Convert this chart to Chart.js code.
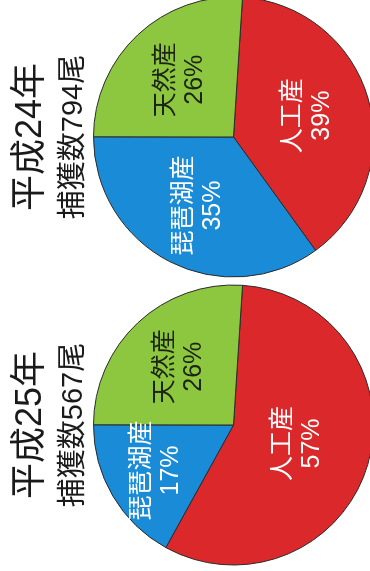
<!DOCTYPE html>
<html>
<head>
<meta charset="utf-8">
<script src="https://cdn.jsdelivr.net/npm/chart.js@4"></script>
<style>
    html, body { margin: 0; padding: 0; background: #fff; overflow: hidden; }
    body { width: 370px; height: 571px; position: relative; }
    /* the whole figure is laid out sideways and then turned a quarter turn */
    #stage {
        position: absolute; left: 0; top: 0;
        width: 571px; height: 370px;
        overflow: hidden;
        transform-origin: 0 0;
        transform: translateY(571px) rotate(-90deg);
    }
    #stage canvas { position: absolute; top: 0; }
    #chart25 { left: 4px; }
    #chart24 { left: 292px; }
</style>
</head>
<body>
<div id="stage">
    <canvas id="chart25" width="284" height="374"></canvas>
    <canvas id="chart24" width="284" height="374"></canvas>
</div>
<script>
// Data
const categories = ['人工産', '琵琶湖産', '天然産'];
const share24 = [39, 35, 26];   // 平成24年 (%)
const share25 = [57, 17, 26];   // 平成25年 (%)
const titles = ['平成24年', '平成25年'];
const catchCounts = [794, 567];

const sliceColors = ['#da282b', '#1a8bd6', '#8dc63f'];
const labelColors = ['#ffffff', '#ffffff', '#1c2414'];
const fontFamily = '"Liberation Sans", "Noto Sans CJK JP", sans-serif';

// Draws "name / value%" in the middle of each slice
const sliceLabels = {
    id: 'sliceLabels',
    afterDatasetsDraw(chart, args, opts) {
        const ctx = chart.ctx;
        const meta = chart.getDatasetMeta(0);
        const values = chart.data.datasets[0].data;
        ctx.save();
        ctx.font = `25px ${fontFamily}`;
        ctx.textAlign = 'center';
        ctx.textBaseline = 'middle';
        meta.data.forEach((arc, i) => {
            const { x, y, startAngle, endAngle, outerRadius } = arc.getProps(['x', 'y', 'startAngle', 'endAngle', 'outerRadius'], true);
            const mid = (startAngle + endAngle) / 2;
            const r = outerRadius * opts.radius[i];
            const cx = x + Math.cos(mid) * r;
            const cy = y + Math.sin(mid) * r;
            ctx.fillStyle = labelColors[i];
            ctx.fillText(chart.data.labels[i], cx, cy - 14);
            ctx.fillText(values[i] + '%', cx, cy + 15);
        });
        ctx.restore();
    }
};

function makePie(canvasId, values, title, count, labelRadius) {
    return new Chart(document.getElementById(canvasId), {
        type: 'pie',
        data: {
            labels: categories,
            datasets: [{
                data: values,
                backgroundColor: sliceColors,
                borderColor: '#2b2b2b',
                borderWidth: 1
            }]
        },
        options: {
            responsive: false,
            animation: false,
            devicePixelRatio: 1,
            rotation: 93.7,
            radius: 140,
            layout: { padding: 0 },
            plugins: {
                legend: { display: false },
                tooltip: { enabled: false },
                title: {
                    display: true,
                    text: title,
                    color: '#1a1a1a',
                    font: { family: fontFamily, size: 36, weight: 'normal' },
                    padding: { top: 9, bottom: 4 }
                },
                subtitle: {
                    display: true,
                    text: `捕獲数${count}尾`,
                    color: '#1a1a1a',
                    font: { family: fontFamily, size: 29, weight: 'normal' },
                    padding: { top: 0, bottom: 2 }
                },
                sliceLabels: { radius: labelRadius }
            }
        },
        plugins: [sliceLabels]
    });
}

makePie('chart24', share24, titles[0], catchCounts[0], [0.55, 0.55, 0.56]);
makePie('chart25', share25, titles[1], catchCounts[1], [0.47, 0.64, 0.57]);
</script>
</body>
</html>
